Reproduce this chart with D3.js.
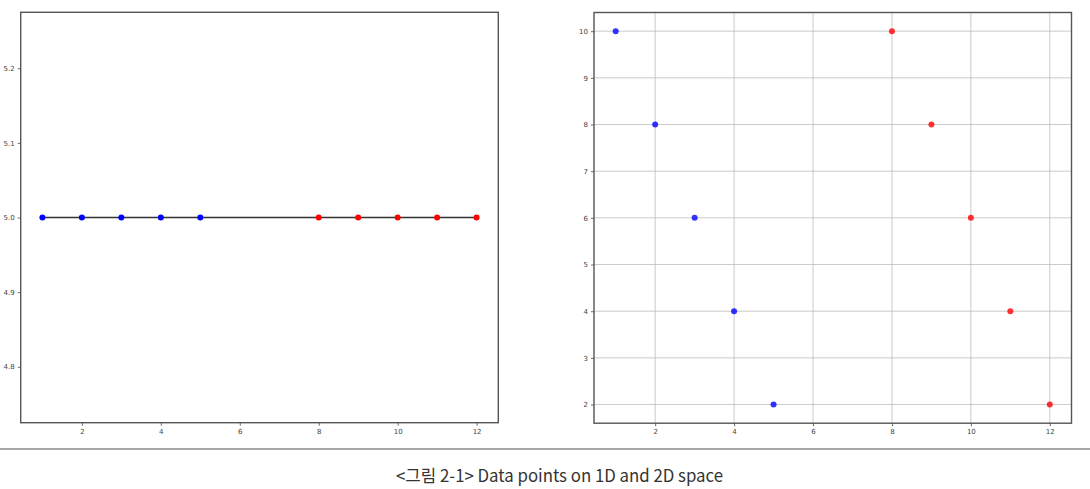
<!DOCTYPE html>
<html><head><meta charset="utf-8">
<script src="https://cdn.jsdelivr.net/npm/d3@7"></script>
<style>html,body{margin:0;padding:0;background:#fff;}svg{display:block;}</style>
</head><body>
<script>
const blueX = [1, 2, 3, 4, 5];
const redX = [8, 9, 10, 11, 12];
const blueY2D = [10, 8, 6, 4, 2];
const redY2D = [10, 8, 6, 4, 2];
const y1D = 5;
const xTicks = [2, 4, 6, 8, 10, 12];
const leftYTicks = [4.8, 4.9, 5.0, 5.1, 5.2];
const rightYTicks = [2, 3, 4, 5, 6, 7, 8, 9, 10];
const caption = "<그림 2-1> Data points on 1D and 2D space";

const W = 1090, H = 489;
const svg = d3.select("body").append("svg").attr("width", W).attr("height", H);
svg.append("rect").attr("width", W).attr("height", H).attr("fill", "#fff");

const blueC = "#0000ff", redC = "#ff0000";

function axes(g, x, y, yTicks, yFmt, grid) {
  const [x0, x1] = x.range(), [y0, y1] = y.range();
  if (grid) {
    g.append("g").selectAll("line").data(xTicks).join("line")
      .attr("x1", d => x(d)).attr("x2", d => x(d)).attr("y1", y1).attr("y2", y0)
      .attr("stroke", "#b8b8b8").attr("stroke-width", 0.9).attr("opacity", 0.8);
    g.append("g").selectAll("line").data(yTicks).join("line")
      .attr("y1", d => y(d)).attr("y2", d => y(d)).attr("x1", x0).attr("x2", x1)
      .attr("stroke", "#b8b8b8").attr("stroke-width", 0.9).attr("opacity", 0.8);
  }
  const xa = g.append("g").attr("transform", `translate(0,${y0})`)
    .call(d3.axisBottom(x).tickValues(xTicks).tickSize(3).tickPadding(3).tickFormat(d3.format("d")));
  const ya = g.append("g").attr("transform", `translate(${x0},0)`)
    .call(d3.axisLeft(y).tickValues(yTicks).tickSize(3).tickPadding(3).tickFormat(yFmt));
  [xa, ya].forEach(a => {
    a.select(".domain").remove();
    a.selectAll("text").attr("font-family", "DejaVu Sans").attr("font-size", 7).attr("fill", "#444");
    a.selectAll("line").attr("stroke", "#444").attr("stroke-width", 0.8);
  });
  g.append("rect").attr("x", x0).attr("y", y1).attr("width", x1 - x0).attr("height", y0 - y1)
    .attr("fill", "none").attr("stroke", "#555").attr("stroke-width", 1.4);
}

// Left 1D panel
const xL = d3.scaleLinear().domain([0.45, 12.55]).range([20.7, 498.3]);
const yL = d3.scaleLinear().domain([4.725, 5.275]).range([422.7, 12.3]);
const gL = svg.append("g");
axes(gL, xL, yL, leftYTicks, d3.format(".1f"), false);
const allX = blueX.concat(redX);
gL.append("path").datum(allX)
  .attr("d", d3.line().x(d => xL(d)).y(() => yL(y1D)))
  .attr("fill", "none").attr("stroke", "#333").attr("stroke-width", 1.5);
gL.append("g").selectAll("circle").data(blueX).join("circle")
  .attr("cx", d => xL(d)).attr("cy", yL(y1D)).attr("r", 3).attr("fill", blueC);
gL.append("g").selectAll("circle").data(redX).join("circle")
  .attr("cx", d => xL(d)).attr("cy", yL(y1D)).attr("r", 3).attr("fill", redC);

// Right 2D panel
const xR = d3.scaleLinear().domain([0.45, 12.55]).range([594, 1071.5]);
const yR = d3.scaleLinear().domain([1.6, 10.4]).range([423.2, 12.5]);
const gR = svg.append("g");
axes(gR, xR, yR, rightYTicks, d3.format("d"), true);
gR.append("g").selectAll("circle").data(blueX).join("circle")
  .attr("cx", d => xR(d)).attr("cy", (d, i) => yR(blueY2D[i])).attr("r", 3)
  .attr("fill", blueC).attr("opacity", 0.8);
gR.append("g").selectAll("circle").data(redX).join("circle")
  .attr("cx", d => xR(d)).attr("cy", (d, i) => yR(redY2D[i])).attr("r", 3)
  .attr("fill", redC).attr("opacity", 0.8);

// Separator and caption
svg.append("line").attr("x1", 0).attr("x2", W).attr("y1", 449).attr("y2", 449)
  .attr("stroke", "#a8a8a8").attr("stroke-width", 2);
svg.append("text").attr("x", 559.5).attr("y", 481.5).attr("text-anchor", "middle")
  .attr("font-family", "Noto Sans CJK KR, Noto Sans").attr("font-size", 17.5).attr("fill", "#333")
  .attr("textLength", 327).attr("lengthAdjust", "spacingAndGlyphs")
  .text(caption);
</script>
</body></html>
